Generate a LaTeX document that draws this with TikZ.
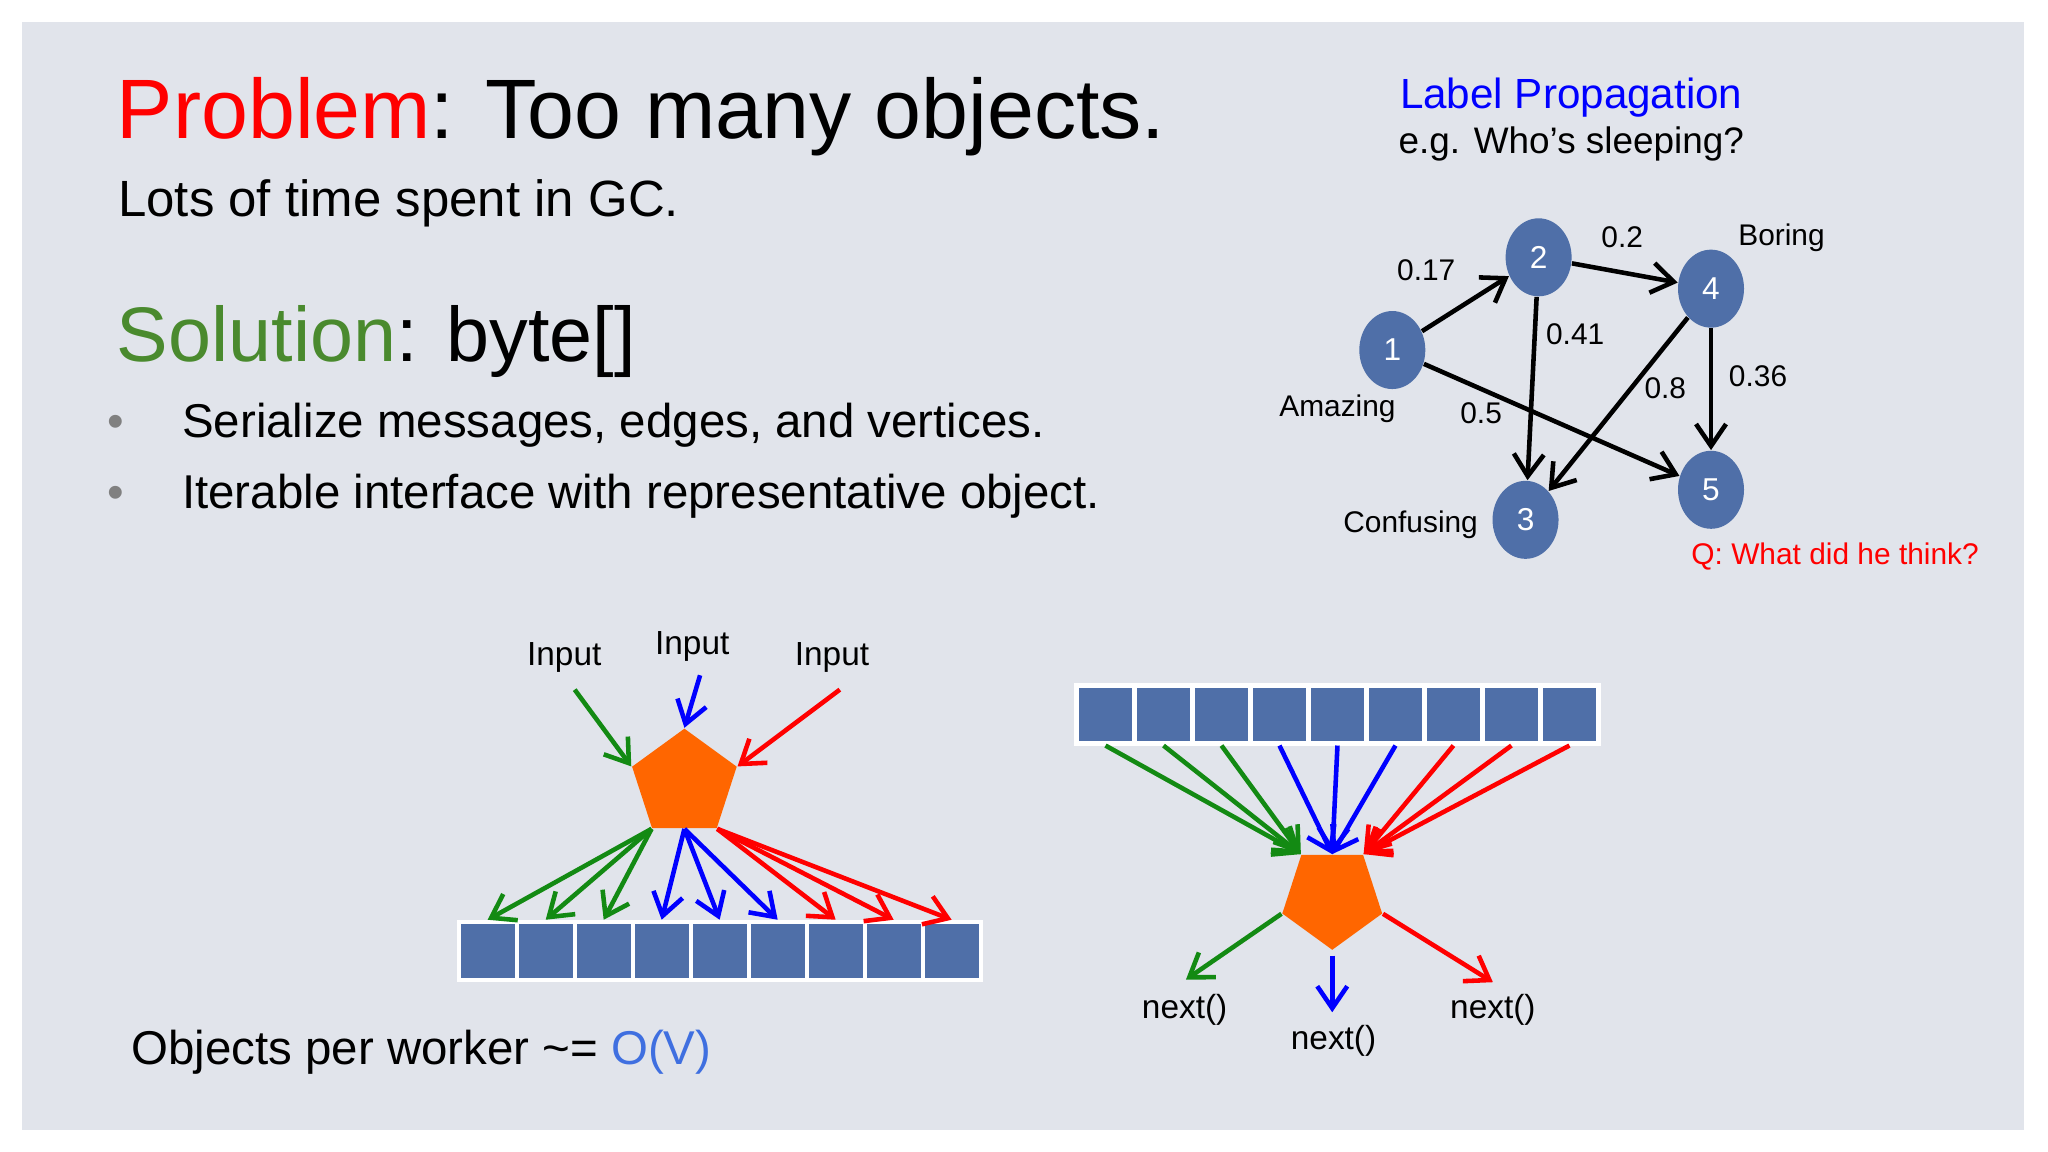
\documentclass[tikz,border=0pt]{standalone}
\usepackage{fontspec}
\setmainfont{Liberation Sans}
\usetikzlibrary{arrows.meta, positioning, shapes.geometric}
\definecolor{slidebg}{HTML}{E1E4EB}
\definecolor{nodeblue}{HTML}{4F6FA8}
\definecolor{pentorange}{HTML}{FF6600}
\definecolor{solgreen}{HTML}{4A8A2E}
\definecolor{ovblue}{HTML}{3F6FE0}
\definecolor{arrgreen}{HTML}{138A13}
\tikzset{
    vert/.style={ellipse, fill=nodeblue, text=white, minimum width=0.66cm, minimum height=0.78cm, inner sep=0pt, font=\fontsize{9}{10}\selectfont},
    wlabel/.style={font=\fontsize{8.5}{10}\selectfont},
    cell/.style={rectangle, fill=nodeblue, draw=white, line width=1.2pt, minimum width=0.58cm, minimum height=0.58cm, inner sep=0pt},
    pent/.style={regular polygon, regular polygon sides=5, fill=pentorange, minimum size=1.1cm, inner sep=0pt},
    gedge/.style={-{Straight Barb[length=2.2mm,width=3mm]}, line width=1.3pt},
    flow/.style={-{Straight Barb[length=2.2mm,width=3mm]}, line width=1.3pt},
    small/.style={font=\fontsize{9.5}{11}\selectfont},
}
\begin{document}
\begin{tikzpicture}[x=0.01306cm, y=-0.01306cm]
    \useasboundingbox (0,0) rectangle (1568,882);
    \fill[white] (0,0) rectangle (1568,882);
    \fill[slidebg] (17,17) rectangle (1550,865);

    % title block
    \node[anchor=base west, font=\fontsize{24}{28}\selectfont] (title) at (80,106) {\textcolor{red}{Problem}: Too many objects.};
    \node[anchor=base west, font=\fontsize{14.5}{17}\selectfont] (gc) at (81,166) {Lots of time spent in GC.};
    \node[anchor=base west, font=\fontsize{22}{26}\selectfont] (sol) at (80,277) {\textcolor{solgreen}{Solution}: byte[]};
    \node[anchor=base west, font=\fontsize{13.5}{16}\selectfont] (b1) at (130,335) {Serialize messages, edges, and vertices.};
    \node[anchor=base west, font=\fontsize{13.5}{16}\selectfont] (b2) at (130,389) {Iterable interface with representative object.};
    \node[anchor=base, text=gray, font=\fontsize{13.5}{16}\selectfont] (d1) at (89,335) {•};
    \node[anchor=base, text=gray, font=\fontsize{13.5}{16}\selectfont] (d2) at (89,389) {•};

    % label propagation graph
    \node[text=blue, font=\fontsize{12}{14}\selectfont] (lp) at (1203,75) {Label Propagation};
    \node[font=\fontsize{10.5}{12}\selectfont] (eg) at (1203,110) {e.g. Who’s sleeping?};

    \node[vert] (v1) at (1066,268) {1};
    \node[vert] (v2) at (1178,197) {2};
    \node[vert] (v4) at (1310,221) {4};
    \node[vert] (v5) at (1310,375) {5};
    \node[vert] (v3) at (1168,398) {3};

    \draw[gedge] (v1) -- (v2);
    \draw[gedge] (v2) -- (v4);
    \draw[gedge] (v2) -- (v3);
    \draw[gedge] (v4) -- (v3);
    \draw[gedge] (v4) -- (v5);
    \draw[gedge] (v1) -- (v5);

    \node[wlabel] (w12) at (1092,207) {0.17};
    \node[wlabel] (w24) at (1242,182) {0.2};
    \node[wlabel] (w23) at (1206,256) {0.41};
    \node[wlabel] (w43) at (1275,297) {0.8};
    \node[wlabel] (w45) at (1346,288) {0.36};
    \node[wlabel] (w15) at (1134,316) {0.5};
    \node[wlabel] (amazing) at (1024,313) {Amazing};
    \node[wlabel] (boring) at (1364,182) {Boring};
    \node[wlabel] (confusing) at (1080,402) {Confusing};
    \node[wlabel, text=red] (q) at (1405,426) {Q: What did he think?};

    % scatter side
    \node[pent] (pentL) at (524,600) {};
    \node[small] (inA) at (432,503) {Input};
    \node[small] (inB) at (530,495) {Input};
    \node[small] (inC) at (637,503) {Input};
    \coordinate (sA) at (440,528);
    \coordinate (sB) at (536,517);
    \coordinate (sC) at (643,528);
    \draw[flow, arrgreen] (sA) -- (pentL.corner 2);
    \draw[flow, blue] (sB) -- (pentL.corner 1);
    \draw[flow, red] (sC) -- (pentL.corner 5);

    \foreach \i in {1,...,9}
        \node[cell] (cl\i) at ({329+44.4*\i},728) {};
    \foreach \i in {1,2,3}
        \draw[flow, arrgreen] (pentL.corner 3) -- (cl\i.north);
    \foreach \i in {4,5,6}
        \draw[flow, blue] (pentL.south) -- (cl\i.north);
    \foreach \i in {7,8,9}
        \draw[flow, red] (pentL.corner 4) -- (cl\i.north);

    \node[anchor=base west, font=\fontsize{13.5}{16}\selectfont] (ov) at (91,815) {Objects per worker \textasciitilde= \textcolor{ovblue}{O(V)}};

    % gather side
    \foreach \i in {1,...,9}
        \node[cell] (cr\i) at ({802+44.4*\i},547) {};
    \node[pent, shape border rotate=180, minimum size=1.05cm] (pentR) at (1020,687) {};
    \foreach \i in {1,2,3}
        \draw[flow, arrgreen] (cr\i.south) -- (pentR.corner 4);
    \foreach \i in {4,5,6}
        \draw[flow, blue] (cr\i.south) -- (pentR.north);
    \foreach \i in {7,8,9}
        \draw[flow, red] (cr\i.south) -- (pentR.corner 3);

    \node[small] (nx1) at (907,773) {next()};
    \node[small] (nx2) at (1021,797) {next()};
    \node[small] (nx3) at (1143,773) {next()};
    \coordinate (eG) at (908,750);
    \coordinate (eB) at (1020,775);
    \coordinate (eR) at (1143,752);
    \draw[flow, arrgreen] (pentR.corner 5) -- (eG);
    \draw[flow, blue] ([yshift=-0.05cm]pentR.corner 1) -- (eB);
    \draw[flow, red] (pentR.corner 2) -- (eR);
\end{tikzpicture}
\end{document}
